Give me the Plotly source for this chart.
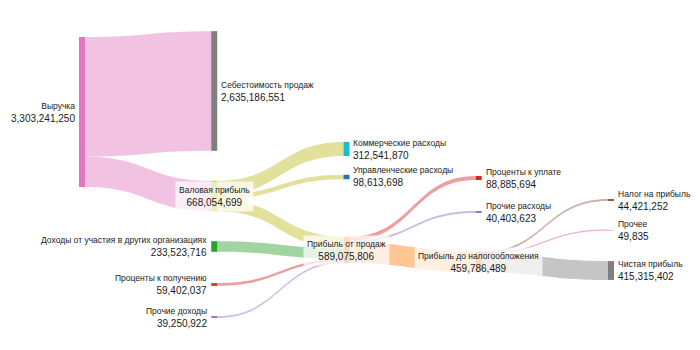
import plotly.graph_objects as go

# ---------------- data ----------------
node_names = [
    "Выручка",
    "Себестоимость продаж",
    "Валовая прибыль",
    "Коммерческие расходы",
    "Управленческие расходы",
    "Прибыль от продаж",
    "Доходы от участия в других организациях",
    "Проценты к получению",
    "Прочие доходы",
    "Проценты к уплате",
    "Прочие расходы",
    "Прибыль до налогообложения",
    "Налог на прибыль",
    "Прочее",
    "Чистая прибыль",
]
link_source = [0, 0, 2, 2, 2, 6, 7, 8, 5, 5, 5, 11, 11, 11]
link_target = [1, 2, 3, 4, 5, 5, 5, 5, 9, 10, 11, 12, 13, 14]
link_value = [
    2635186551, 668054699,
    312541870, 98613698, 256899131,
    233523716, 59402037, 39250922,
    88885694, 40403623, 459786489,
    44421252, 49835, 415315402,
]

# ---------------- styles / layout ----------------
node_colors = ["#e377c2", "#7f7f7f", "#bcbd22", "#17becf", "#1f77b4", "#ff7f0e",
               "#2ca02c", "#d62728", "#9467bd", "#d62728", "#9467bd", "#ff7f0e",
               "#8c564b", "#e377c2", "#7f7f7f"]
link_base = ["#e377c2", "#e377c2", "#bcbd22", "#bcbd22", "#bcbd22", "#2ca02c",
             "#d62728", "#9467bd", "#d62728", "#9467bd", "#ff7f0e",
             "#8c564b", "#e377c2", "#7f7f7f"]
node_col = [0, 1, 1, 2, 2, 2, 1, 1, 1, 3, 3, 3, 4, 4, 4]
node_ypx = [112, 91, 196, 149, 177, 250, 246.5, 284.5, 317, 178, 212, 262, 200, 230, 270.5]

W, H = 700, 350
X0, X1 = 82, 611          # centre of first / last column (px)
Y0, Y1 = 20, 330          # vertical extent of the sankey domain (px)
THICK = 6
NCOL = 4
FONT = "Liberation Sans, Arial, sans-serif"


def rgba(hex_c, a):
    h = hex_c.lstrip("#")
    r, g, b = int(h[0:2], 16), int(h[2:4], 16), int(h[4:6], 16)
    return f"rgba({r},{g},{b},{a})"


n = len(node_names)
inflow = [0] * n
outflow = [0] * n
for s, t, v in zip(link_source, link_target, link_value):
    outflow[s] += v
    inflow[t] += v
node_value = [max(i, o) for i, o in zip(inflow, outflow)]

dom_w = X1 - X0
dom_h = Y1 - Y0
node_x = [max(c / NCOL, 1e-9) for c in node_col]
node_y = [(y - Y0) / dom_h for y in node_ypx]

# pixel scale: revenue node 150 px tall; padding chosen so d3 layout gives that scale
rev_px = 150
col0_total = sum(node_value[i] for i in range(n) if inflow[i] == 0)
ky = rev_px / node_value[0]
pad = (dom_h - ky * col0_total) / 3

fig = go.Figure(go.Sankey(
    arrangement="fixed",
    domain=dict(x=[X0 / W, X1 / W], y=[1 - Y1 / H, 1 - Y0 / H]),
    node=dict(
        label=[""] * n,
        x=node_x,
        y=node_y,
        pad=pad,
        align="left",
        thickness=THICK,
        color=node_colors,
        line=dict(width=0),
        hoverinfo="none",
    ),
    link=dict(
        source=link_source,
        target=link_target,
        value=link_value,
        color=[rgba(c, 0.45) for c in link_base],
        hoverinfo="none",
    ),
))

annotations = []
for i in range(n):
    cx = X0 + node_x[i] * dom_w if node_col[i] else X0
    cy = node_ypx[i]
    txt = (f"<span style='font-size:8.5px'>{node_names[i]}</span><br>"
           f"{node_value[i]:,}")
    if inflow[i] == 0:
        ax, xa, al, bg, bp = cx - THICK / 2 - 1, "right", "right", "rgba(0,0,0,0)", 2
    elif outflow[i] == 0:
        ax, xa, al, bg, bp = cx + THICK / 2 + 1, "left", "left", "rgba(0,0,0,0)", 2
    else:
        ax, xa, al, bg, bp = cx, "center", "center", "rgba(255,255,255,0.72)", 3
    annotations.append(dict(
        x=ax / W, y=1 - cy / H, xref="paper", yref="paper",
        xanchor=xa, yanchor="middle", align=al, showarrow=False,
        text=txt, bgcolor=bg, borderpad=bp,
        font=dict(family=FONT, size=10, color="#1a1a1a"),
    ))

fig.update_layout(
    width=W, height=H,
    margin=dict(l=0, r=0, t=0, b=0),
    paper_bgcolor="white",
    annotations=annotations,
    font=dict(family=FONT),
)

fig.write_html("out.html")
